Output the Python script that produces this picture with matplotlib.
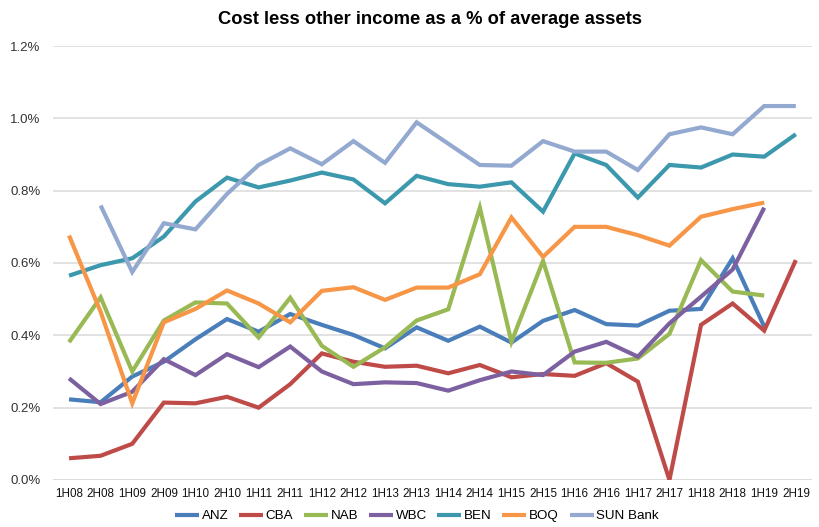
import matplotlib
matplotlib.use("Agg")
import matplotlib.pyplot as plt
import numpy as np

plt.rcParams['font.family'] = ['Liberation Sans', 'DejaVu Sans']

categories = ["1H08","2H08","1H09","2H09","1H10","2H10","1H11","2H11","1H12","2H12",
              "1H13","2H13","1H14","2H14","1H15","2H15","1H16","2H16","1H17","2H17",
              "1H18","2H18","1H19","2H19"]

nan = np.nan
anz = [0.223,0.215,0.286,0.327,0.389,0.445,0.410,0.459,0.429,0.401,0.364,0.422,
       0.385,0.424,0.380,0.440,0.470,0.431,0.427,0.468,0.473,0.613,0.424,nan]
cba = [0.060,0.067,0.100,0.214,0.212,0.230,0.200,0.265,0.350,0.327,0.313,0.316,
       0.295,0.318,0.284,0.293,0.288,0.323,0.272,0.0,0.429,0.488,0.413,0.608]
nab = [0.381,0.505,0.300,0.441,0.491,0.488,0.394,0.504,0.371,0.313,0.367,0.441,
       0.472,0.753,0.382,0.606,0.325,0.324,0.336,0.404,0.608,0.521,0.510,nan]
wbc = [0.281,0.210,0.244,0.334,0.290,0.348,0.312,0.369,0.300,0.265,0.270,0.268,
       0.247,0.276,0.300,0.290,0.355,0.382,0.341,0.433,0.507,0.582,0.753,nan]
ben = [0.565,0.594,0.613,0.673,0.770,0.836,0.809,0.828,0.850,0.831,0.765,0.841,
       0.818,0.811,0.823,0.742,0.903,0.871,0.781,0.871,0.864,0.900,0.894,0.956]
boq = [0.676,0.465,0.212,0.436,0.473,0.524,0.488,0.436,0.523,0.533,0.498,0.532,
       0.532,0.569,0.726,0.617,0.700,0.700,0.677,0.648,0.728,0.749,0.767,nan]
sun = [nan,0.759,0.575,0.710,0.693,0.791,0.871,0.917,0.873,0.937,0.877,0.989,
       0.930,0.871,0.869,0.937,0.908,0.908,0.857,0.956,0.975,0.956,1.034,1.034]

series_names = ["ANZ","CBA","NAB","WBC","BEN","BOQ","SUN Bank"]
series_values = [anz, cba, nab, wbc, ben, boq, sun]
colors = ["#4a7ebb","#be4b48","#98b954","#7d60a0","#3c98ad","#f79646","#94a9d0"]

fig = plt.figure(figsize=(8.19, 5.27), dpi=100)
ax = fig.add_axes([0.065, 0.0892, 0.926, 0.8235])

x = np.arange(len(categories))
for name, vals, c in zip(series_names, series_values, colors):
    ax.plot(x, np.array(vals, dtype=float), color=c, lw=3.0, label=name,
            solid_joinstyle='miter', solid_capstyle='butt')

ax.set_xlim(-0.5, len(categories) - 0.5)
ax.set_ylim(0, 1.2)
yt = np.arange(0, 1.21, 0.2)
ax.set_yticks(yt)
ax.set_yticklabels([f"{v:.1f}%" for v in yt], fontsize=9.5, color="#333333")
ax.set_xticks(x)
ax.set_xticklabels(categories, fontsize=8.4, color="#111111")
ax.tick_params(axis='both', length=0)
ax.tick_params(axis='x', pad=6)
ax.tick_params(axis='y', pad=9)
ax.grid(axis='y', color="#dddddd", lw=1.2)
ax.set_axisbelow(True)
for s in ax.spines.values():
    s.set_visible(False)
ax.axhline(0, color="#cccccc", lw=1.2, zorder=0)

fig.text(0.525, 1 - 20/527, "Cost less other income as a % of average assets",
         ha='center', va='center', fontsize=13.2, fontweight='bold')

leg = fig.legend(loc='center', ncol=7, bbox_to_anchor=(0.509, 1 - 516/527), frameon=False,
                 fontsize=9.6, handlelength=1.8, handletextpad=0.2, columnspacing=0.8)
for h in leg.get_lines():
    h.set_linewidth(3.0)

fig.savefig("out.png", dpi=100)
